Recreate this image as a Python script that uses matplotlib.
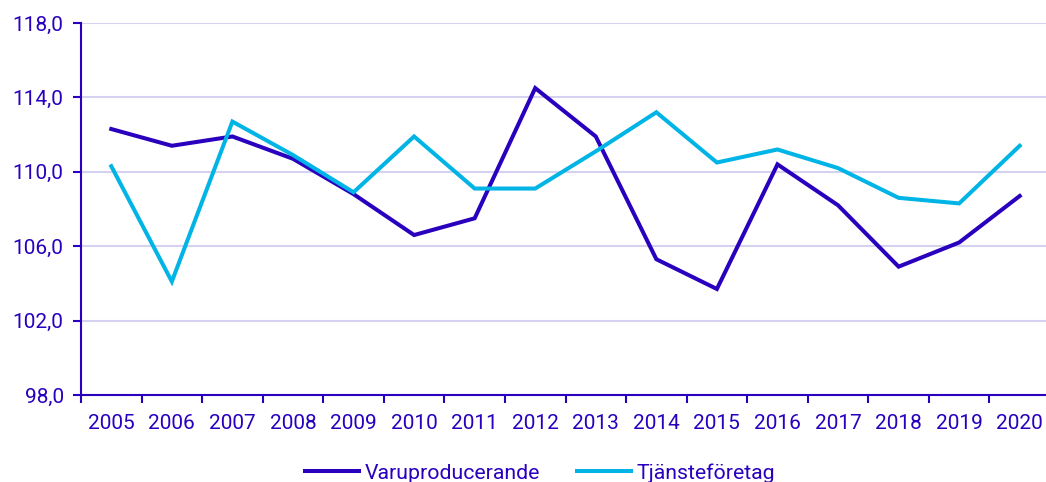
import matplotlib.pyplot as plt
import numpy as np

plt.rcParams['font.family'] = ['Roboto', 'DejaVu Sans']

years = [str(y) for y in range(2005, 2021)]
varu = [112.3, 111.4, 111.9, 110.7, 108.8, 106.6, 107.5, 114.5, 111.9,
        105.3, 103.7, 110.4, 108.2, 104.9, 106.2, 108.7]
tjanst = [110.3, 104.1, 112.7, 110.9, 108.9, 111.9, 109.1, 109.1, 111.1,
          113.2, 110.5, 111.2, 110.2, 108.6, 108.3, 111.4]
yticks = [98, 102, 106, 110, 114, 118]

dark = '#2800BE'
light = '#00B4E6'
text_c = '#2800BE'
grid_c = '#D4D2F0'

fig = plt.figure(figsize=(10.46, 4.82), dpi=100)
# axes: left 81px, width ~969px, top 23px, bottom 395px
ax = fig.add_axes([81 / 1046, (482 - 395) / 482, 969 / 1046, 372 / 482])

x = np.arange(len(years))
ax.plot(x, varu, color=dark, lw=2.9, label='Varuproducerande', solid_joinstyle='miter')
ax.plot(x, tjanst, color=light, lw=2.9, label='Tjänsteföretag', solid_joinstyle='miter')

ax.set_xlim(-0.5, len(years) - 0.5)
ax.set_ylim(98, 118)
ax.set_yticks(yticks)
ax.set_yticklabels([f'{v:.1f}'.replace('.', ',') for v in yticks])
ax.set_xticks(x)
ax.set_xticklabels(years)
ax.set_xticks(np.arange(-0.5, len(years)), minor=True)

ax.grid(axis='y', color=grid_c, lw=1.5)
ax.set_axisbelow(True)
for s in ['top', 'right']:
    ax.spines[s].set_visible(False)
for s in ['left', 'bottom']:
    ax.spines[s].set_color(text_c)
    ax.spines[s].set_linewidth(1.5)

ax.tick_params(axis='x', which='major', length=0, pad=14, labelsize=15, labelcolor=text_c)
ax.tick_params(axis='x', which='minor', length=6, width=1.5, color=text_c)
ax.tick_params(axis='y', length=6, width=1.5, color=text_c, labelsize=15,
               labelcolor=text_c, pad=6.5)

leg = fig.legend(loc='center', bbox_to_anchor=(540 / 1046, (482 - 473) / 482), ncol=2,
                 frameon=False, fontsize=15.3, handlelength=2.55, columnspacing=1.75,
                 handletextpad=0.25, borderpad=0, borderaxespad=0)
for t in leg.get_texts():
    t.set_color(text_c)

fig.savefig('out.png', dpi=100)
